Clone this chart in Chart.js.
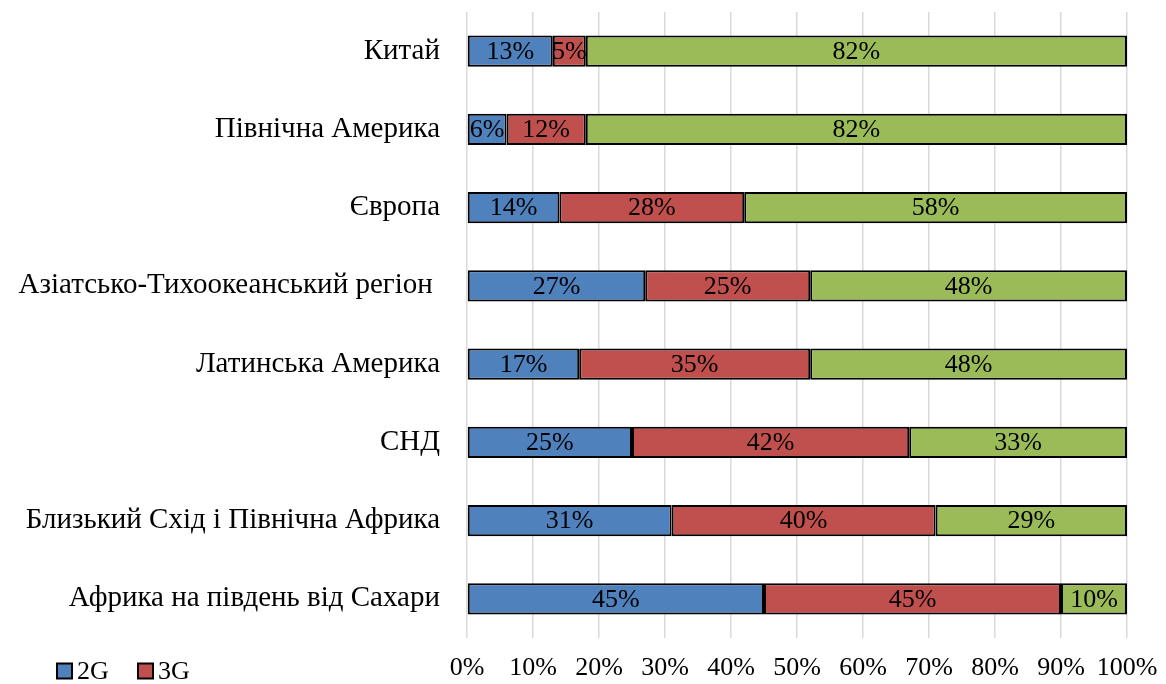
<!DOCTYPE html>
<html>
<head>
<meta charset="utf-8">
<script src="https://cdn.jsdelivr.net/npm/chart.js@4"></script>
<style>
  html, body { margin: 0; padding: 0; background: #fff; }
  #wrap { width: 1166px; height: 684px; }
</style>
</head>
<body>
<div id="wrap"><canvas id="chart" width="1166" height="684"></canvas></div>
<script>
const regions = [
  'Китай',
  'Північна Америка',
  'Європа',
  'Азіатсько-Тихоокеанський регіон ',
  'Латинська Америка',
  'СНД',
  'Близький Схід і Північна Африка',
  'Африка на південь від Сахари'
];
const share2G = [13, 6, 14, 27, 17, 25, 31, 45];
const share3G = [5, 12, 28, 25, 35, 42, 40, 45];
const share4G = [82, 82, 58, 48, 48, 33, 29, 10];
const xTicks = [0, 10, 20, 30, 40, 50, 60, 70, 80, 90, 100];

const FONT = '"Liberation Serif", "Times New Roman", serif';

// draws the % labels in the middle of every bar segment
const barLabels = {
  id: 'barLabels',
  afterDatasetsDraw(chart) {
    const ctx = chart.ctx;
    ctx.save();
    ctx.font = '26px ' + FONT;
    ctx.fillStyle = '#000';
    ctx.textAlign = 'center';
    ctx.textBaseline = 'middle';
    chart.data.datasets.forEach((ds, i) => {
      chart.getDatasetMeta(i).data.forEach((bar, j) => {
        const x = (bar.x + bar.base) / 2;
        ctx.fillText(ds.data[j] + '%', x, bar.y + 1);
      });
    });
    ctx.restore();
  }
};

// legend in the bottom left corner (only 2G and 3G fit in the original)
const cornerLegend = {
  id: 'cornerLegend',
  afterDraw(chart) {
    const ctx = chart.ctx;
    ctx.save();
    ctx.font = '26px ' + FONT;
    ctx.textBaseline = 'middle';
    let x = 57;
    const y = 671;
    chart.data.datasets.slice(0, 2).forEach(ds => {
      ctx.fillStyle = ds.backgroundColor;
      ctx.fillRect(x, y - 7.5, 15, 15);
      ctx.strokeStyle = '#000';
      ctx.lineWidth = 2;
      ctx.strokeRect(x, y - 7.5, 15, 15);
      ctx.fillStyle = '#000';
      ctx.fillText(ds.label, x + 20, y + 1);
      x += 81;
    });
    ctx.restore();
  }
};

const ctx = document.getElementById('chart').getContext('2d');
new Chart(ctx, {
  type: 'bar',
  data: {
    labels: regions,
    datasets: [
      { label: '2G', data: share2G, backgroundColor: '#4F81BD' },
      { label: '3G', data: share3G, backgroundColor: '#C0504D' },
      { label: '4G', data: share4G, backgroundColor: '#9BBB59' }
    ]
  },
  options: {
    indexAxis: 'y',
    responsive: false,
    animation: false,
    layout: { padding: { top: 12, right: 39, bottom: 0, left: 0 } },
    datasets: {
      bar: {
        borderColor: '#000',
        borderWidth: 2,
        borderSkipped: false,
        categoryPercentage: 1,
        barPercentage: 0.4
      }
    },
    plugins: {
      legend: { display: false },
      tooltip: { enabled: false }
    },
    scales: {
      x: {
        stacked: true,
        min: 0,
        max: 100,
        afterBuildTicks: scale => { scale.ticks = xTicks.map(v => ({ value: v })); },
        afterFit: scale => {
          scale.height = 46;
          scale.paddingLeft = 0;
          scale.paddingRight = 0;
        },
        grid: { color: '#d9d9d9', lineWidth: 1.5, drawTicks: false },
        border: { display: false },
        ticks: {
          padding: 15,
          color: '#000',
          maxRotation: 0,
          minRotation: 0,
          autoSkip: false,
          font: { family: FONT, size: 26 },
          callback: v => v + '%'
        }
      },
      y: {
        stacked: true,
        afterFit: scale => {
          scale.width = 467;
          scale.paddingTop = 0;
          scale.paddingBottom = 0;
        },
        grid: { display: false, drawTicks: false },
        border: { display: false },
        ticks: {
          padding: 27,
          color: '#000',
          font: { family: FONT, size: 29 }
        }
      }
    }
  },
  plugins: [barLabels, cornerLegend]
});
</script>
</body>
</html>
